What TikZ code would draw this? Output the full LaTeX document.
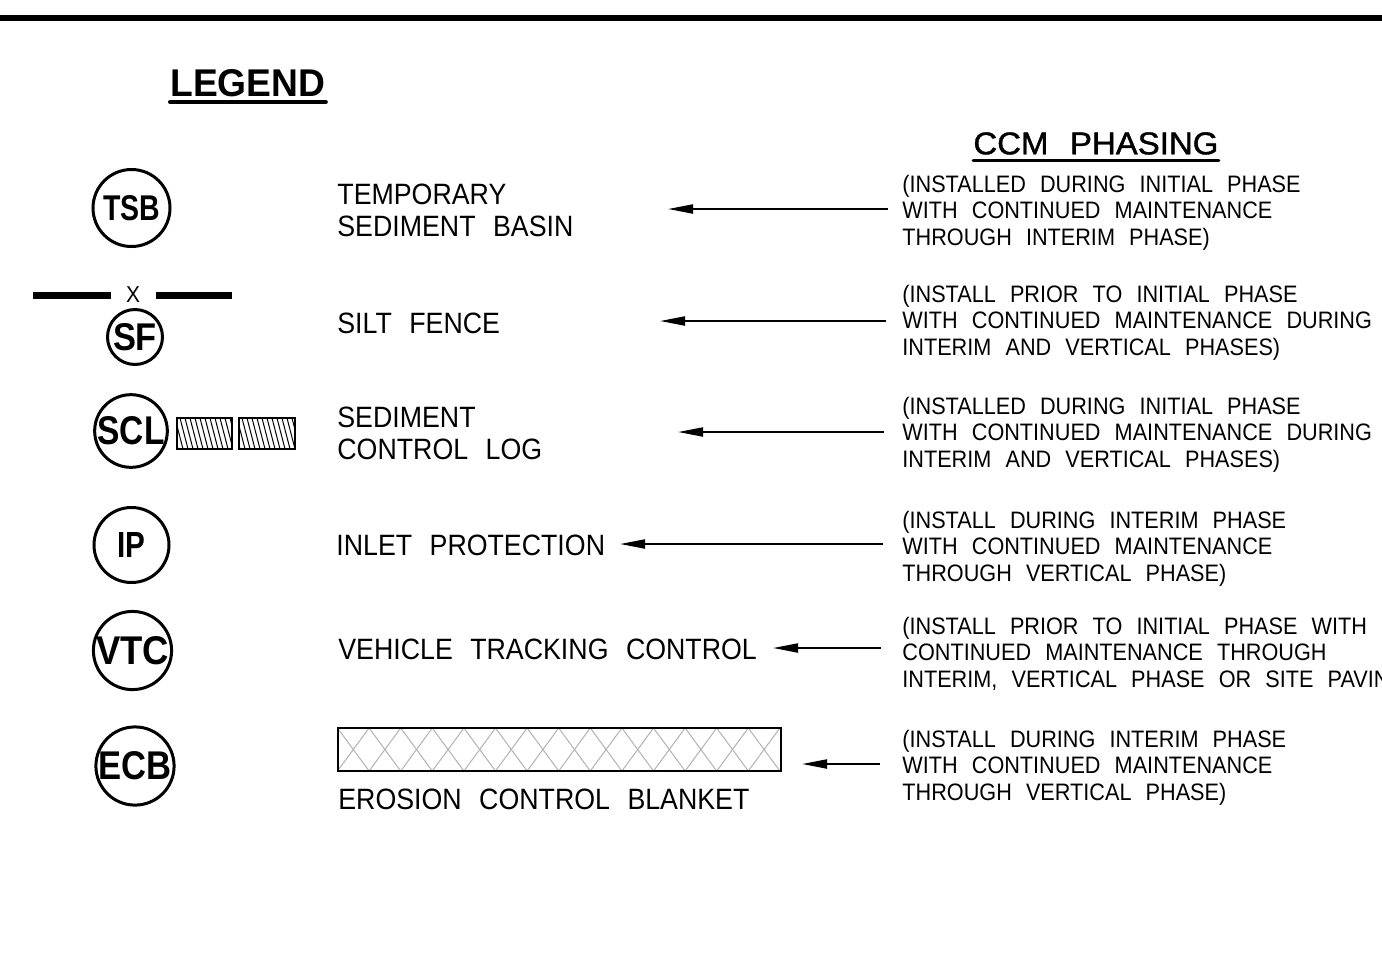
\documentclass[tikz,border=0pt]{standalone}
\usepackage{fontspec}
\usepackage{graphicx}
\setmainfont{Liberation Sans}[WordSpace=2.35]
\newfontfamily\headfont{Liberation Sans}[FakeBold=1.2,WordSpace=2.35]
\usetikzlibrary{arrows.meta}
\newcommand{\cad}[1]{\scalebox{0.91}[1]{#1}}
\newcommand{\fitbox}[3]{\resizebox{#1}{#2}{#3}}

\begin{document}
\begin{tikzpicture}[x=0.5pt,y=-0.5pt,
    lbl/.style={anchor=base west,inner sep=0pt,font=\fontsize{14.7}{16}\selectfont},
    note/.style={anchor=base west,inner sep=0pt,font=\fontsize{11.9}{13}\selectfont},
    sym/.style={circle,draw,line width=1.5pt,inner sep=0pt,font=\bfseries},
    arw/.style={line width=1pt,-{Triangle[length=12.5pt,width=4.5pt]}},
    uline/.style={line width=2pt,line cap=round}]
    \clip (0,0) rectangle (1382,970);
    \draw[line width=3pt] (0,18) -- (1382,18);

    % headings
    \node[anchor=south west,inner sep=0pt] (leg) at (170,97){\fitbox{77.5pt}{13.5pt}{\bfseries LEGEND}};
    \draw[uline] ([yshift=-2.5pt]leg.south west) -- ([yshift=-2.5pt]leg.south east);
    \node[anchor=south west,inner sep=0pt] (ccm) at (973,155){\fitbox{122.5pt}{11pt}{\headfont CCM PHASING}};
    \draw[uline,line width=1.5pt] ([yshift=-2.5pt]ccm.south west) -- ([yshift=-2.5pt]ccm.south east);

    % symbols
    \node[sym,minimum size=38.5pt] (tsb) at (131.5,208){\fitbox{28.5pt}{12.5pt}{TSB}};
    \node[sym,minimum size=27.5pt] (sf) at (135,337){\fitbox{22pt}{13.5pt}{SF}};
    \node[sym,minimum size=36pt] (scl) at (131,431){\fitbox{33.5pt}{14pt}{SCL}};
    \node[sym,minimum size=37.5pt] (ip) at (131.5,545){\fitbox{14pt}{12.5pt}{IP}};
    \node[sym,minimum size=38.5pt] (vtc) at (132.5,650.5){\fitbox{36.5pt}{14pt}{VTC}};
    \node[sym,minimum size=39pt] (ecb) at (135,766){\fitbox{36.5pt}{14pt}{ECB}};

    % silt fence line
    \draw[line width=3.5pt] (33,295.5) -- (111,295.5);
    \draw[line width=3.5pt] (156,295.5) -- (232,295.5);
    \node[anchor=base,inner sep=0pt,font=\fontsize{11.5}{12}\selectfont] (sfx) at (133,302.5){\cad{X}};

    % sediment logs
    \foreach \xa/\xb in {177/232,239/295}{
      \begin{scope}
        \clip (\xa,418) rectangle (\xb,449);
        \foreach \x in {-12,-7,...,60} \draw[line width=0.5pt] (\xa+\x,418) -- (\xa+\x+8,449);
      \end{scope}
      \draw[line width=0.8pt] (\xa,418) rectangle (\xb,449);
    }

    % blanket
    \begin{scope}
      \clip (338,728) rectangle (781,771);
      \foreach \c in {321.7,353.3,...,820} {
        \draw[gray!60,line width=0.5pt] (\c-15.8,728) -- (\c+15.8,771);
        \draw[gray!60,line width=0.5pt] (\c+15.8,728) -- (\c-15.8,771);
      }
    \end{scope}
    \draw[line width=0.7pt] (338,728) rectangle (781,771);

    % legend texts
    \node[lbl] (l1a) at (337,204){\cad{TEMPORARY}};
    \node[lbl] (l1b) at (337,236){\cad{SEDIMENT BASIN}};
    \node[lbl] (l2) at (337,333){\cad{SILT FENCE}};
    \node[lbl] (l3a) at (337,427){\cad{SEDIMENT}};
    \node[lbl] (l3b) at (337,459){\cad{CONTROL LOG}};
    \node[lbl] (l4) at (336,555){\cad{INLET PROTECTION}};
    \node[lbl] (l5) at (338,659){\cad{VEHICLE TRACKING CONTROL}};
    \node[lbl] (l6) at (338,809){\cad{EROSION CONTROL BLANKET}};

    % phasing notes
    \foreach \y/\a/\b/\c [count=\i] in {
      192/{(INSTALLED DURING INITIAL PHASE}/{WITH CONTINUED MAINTENANCE}/{THROUGH INTERIM PHASE)},
      302/{(INSTALL PRIOR TO INITIAL PHASE}/{WITH CONTINUED MAINTENANCE DURING}/{INTERIM AND VERTICAL PHASES)},
      414/{(INSTALLED DURING INITIAL PHASE}/{WITH CONTINUED MAINTENANCE DURING}/{INTERIM AND VERTICAL PHASES)},
      528/{(INSTALL DURING INTERIM PHASE}/{WITH CONTINUED MAINTENANCE}/{THROUGH VERTICAL PHASE)},
      634/{(INSTALL PRIOR TO INITIAL PHASE WITH}/{CONTINUED MAINTENANCE THROUGH}/{INTERIM, VERTICAL PHASE OR SITE PAVING)},
      747/{(INSTALL DURING INTERIM PHASE}/{WITH CONTINUED MAINTENANCE}/{THROUGH VERTICAL PHASE)}}{
      \node[note] (n\i a) at (902,\y){\cad{\a}};
      \node[note] (n\i b) at (902,\y+26){\cad{\b}};
      \node[note] (n\i c) at (902,\y+53){\cad{\c}};
    }

    % arrows
    \foreach \xs/\xe/\y [count=\i] in {888/668/209,886/660/321,884/678/432,883/620/544,881/773/648,880/802/764}{
      \coordinate (s\i) at (\xs,\y); \coordinate (e\i) at (\xe,\y);
      \draw[arw] (s\i) -- (e\i);
    }
\end{tikzpicture}
\end{document}
